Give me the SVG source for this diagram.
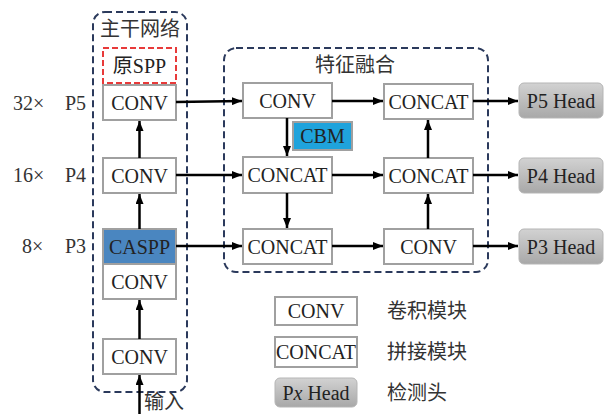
<svg xmlns="http://www.w3.org/2000/svg" width="607" height="414" viewBox="0 0 607 414">
<defs>
<marker id="ah" markerUnits="userSpaceOnUse" markerWidth="10" markerHeight="8" refX="10" refY="4" orient="auto">
<path d="M0,0 L10,4 L0,8 z" fill="#000"/>
</marker>
<linearGradient id="hg" x1="0" y1="0" x2="0" y2="1">
<stop offset="0" stop-color="#d2d2d2"/>
<stop offset="1" stop-color="#a8a8a8"/>
</linearGradient>
<style>
.t{font-family:"Liberation Serif","Noto Sans CJK SC",serif;font-size:20px;fill:#222;text-anchor:middle}
.c{font-family:"Liberation Serif","Noto Sans CJK SC",serif;font-size:20px;fill:#333;}
.z{font-family:"Noto Sans CJK SC",sans-serif;font-size:20px;fill:#333;font-weight:400}
.box{fill:#fff;stroke:#a0a0a0;stroke-width:2}
.grp{fill:none;stroke:#2b3a5c;stroke-width:2;stroke-dasharray:7 4}
.head{fill:url(#hg);stroke:#b5b5b5;stroke-width:1}
.ar{stroke:#000;stroke-width:2.5;fill:none;marker-end:url(#ah)}
</style>
</defs>
<rect width="607" height="414" fill="#fff"/>
<g id="backbone-group">
<rect class="grp" x="93" y="12" width="94" height="380" rx="12"/>
<text class="z" x="140" y="36" text-anchor="middle">主干网络</text>
</g>
<g id="fusion-group">
<rect class="grp" x="224" y="48" width="264" height="224" rx="12"/>
<text class="z" x="355" y="72" text-anchor="middle">特征融合</text>
</g>
<g id="scale-labels">
<text class="c" x="13" y="110">32×</text><text class="c" x="65" y="110">P5</text>
<text class="c" x="13" y="182">16×</text><text class="c" x="65" y="182">P4</text>
<text class="c" x="22" y="253">8×</text><text class="c" x="65" y="253">P3</text>
</g>
<g id="spp"><rect x="103" y="48" width="73" height="35" fill="#fff" stroke="#e83a3a" stroke-width="2" stroke-dasharray="6 3"/><text class="t" x="139.5" y="73"><tspan font-family="Noto Sans CJK SC">原</tspan>SPP</text></g>
<g id="b-conv5"><rect class="box" x="103" y="85" width="73" height="35"/><text class="t" x="139.5" y="110">CONV</text></g>
<g id="b-conv4"><rect class="box" x="103" y="158" width="73" height="35"/><text class="t" x="139.5" y="183">CONV</text></g>
<g id="caspp"><rect x="103" y="229" width="73" height="35" fill="#4a86c0" stroke="#a0a0a0" stroke-width="2"/><text class="t" x="139.5" y="254">CASPP</text></g>
<g id="b-conv2"><rect class="box" x="103" y="264" width="73" height="35"/><text class="t" x="139.5" y="289">CONV</text></g>
<g id="b-conv1"><rect class="box" x="103" y="339" width="73" height="35"/><text class="t" x="139.5" y="364">CONV</text></g>
<g id="f-conv"><rect class="box" x="243" y="83" width="89" height="35"/><text class="t" x="287.5" y="108">CONV</text></g>
<g id="cbm"><rect x="293" y="122" width="59" height="28" fill="#1fa3dc" stroke="#a0a0a0" stroke-width="2"/><text class="t" x="322.5" y="143">CBM</text></g>
<g id="f-concat4"><rect class="box" x="243" y="157" width="89" height="36"/><text class="t" x="287.5" y="182">CONCAT</text></g>
<g id="f-concat3"><rect class="box" x="243" y="229" width="89" height="35"/><text class="t" x="287.5" y="254">CONCAT</text></g>
<g id="r-concat5"><rect class="box" x="384" y="84" width="89" height="35"/><text class="t" x="428.5" y="109">CONCAT</text></g>
<g id="r-concat4"><rect class="box" x="384" y="158" width="89" height="35"/><text class="t" x="428.5" y="183">CONCAT</text></g>
<g id="r-conv3"><rect class="box" x="384" y="229" width="89" height="35"/><text class="t" x="428.5" y="254">CONV</text></g>
<g id="head5"><rect class="head" x="519" y="83" width="84" height="35" rx="5"/><text class="t" x="561" y="108" font-size="21">P5 Head</text></g>
<g id="head4"><rect class="head" x="519" y="158" width="84" height="35" rx="5"/><text class="t" x="561" y="183" font-size="21">P4 Head</text></g>
<g id="head3"><rect class="head" x="519" y="229" width="84" height="35" rx="5"/><text class="t" x="561" y="254" font-size="21">P3 Head</text></g>
<g id="legend">
<rect class="box" x="275" y="297" width="82" height="28"/><text class="t" x="316" y="318">CONV</text>
<rect class="box" x="275" y="337" width="82" height="30"/><text class="t" x="316" y="359">CONCAT</text>
<rect class="head" x="275" y="378" width="82" height="29" rx="5"/><text class="t" x="316" y="400">P<tspan font-style="italic">x</tspan> Head</text>
<text class="z" x="387" y="318">卷积模块</text>
<text class="z" x="387" y="359">拼接模块</text>
<text class="z" x="387" y="400">检测头</text>
<text class="z" x="144" y="409">输入</text>
</g>
<g id="connectors">
<line class="ar" x1="139.5" y1="414" x2="139.5" y2="375"/>
<line class="ar" x1="139.5" y1="339" x2="139.5" y2="300"/>
<line class="ar" x1="139.5" y1="229" x2="139.5" y2="194"/>
<line class="ar" x1="139.5" y1="158" x2="139.5" y2="121"/>
<line class="ar" x1="176" y1="102" x2="242" y2="101"/>
<line class="ar" x1="176" y1="175" x2="242" y2="175"/>
<line class="ar" x1="176" y1="246" x2="242" y2="246"/>
<line class="ar" x1="287" y1="118" x2="287" y2="156"/>
<line class="ar" x1="287" y1="193" x2="287" y2="228"/>
<line class="ar" x1="332" y1="101" x2="383" y2="101"/>
<line class="ar" x1="332" y1="175" x2="383" y2="175"/>
<line class="ar" x1="332" y1="246" x2="383" y2="246"/>
<line class="ar" x1="428" y1="229" x2="428" y2="194"/>
<line class="ar" x1="428" y1="158" x2="428" y2="120"/>
<line class="ar" x1="473" y1="101" x2="518" y2="101"/>
<line class="ar" x1="473" y1="175" x2="518" y2="175"/>
<line class="ar" x1="473" y1="246" x2="518" y2="246"/>
</g>
</svg>
